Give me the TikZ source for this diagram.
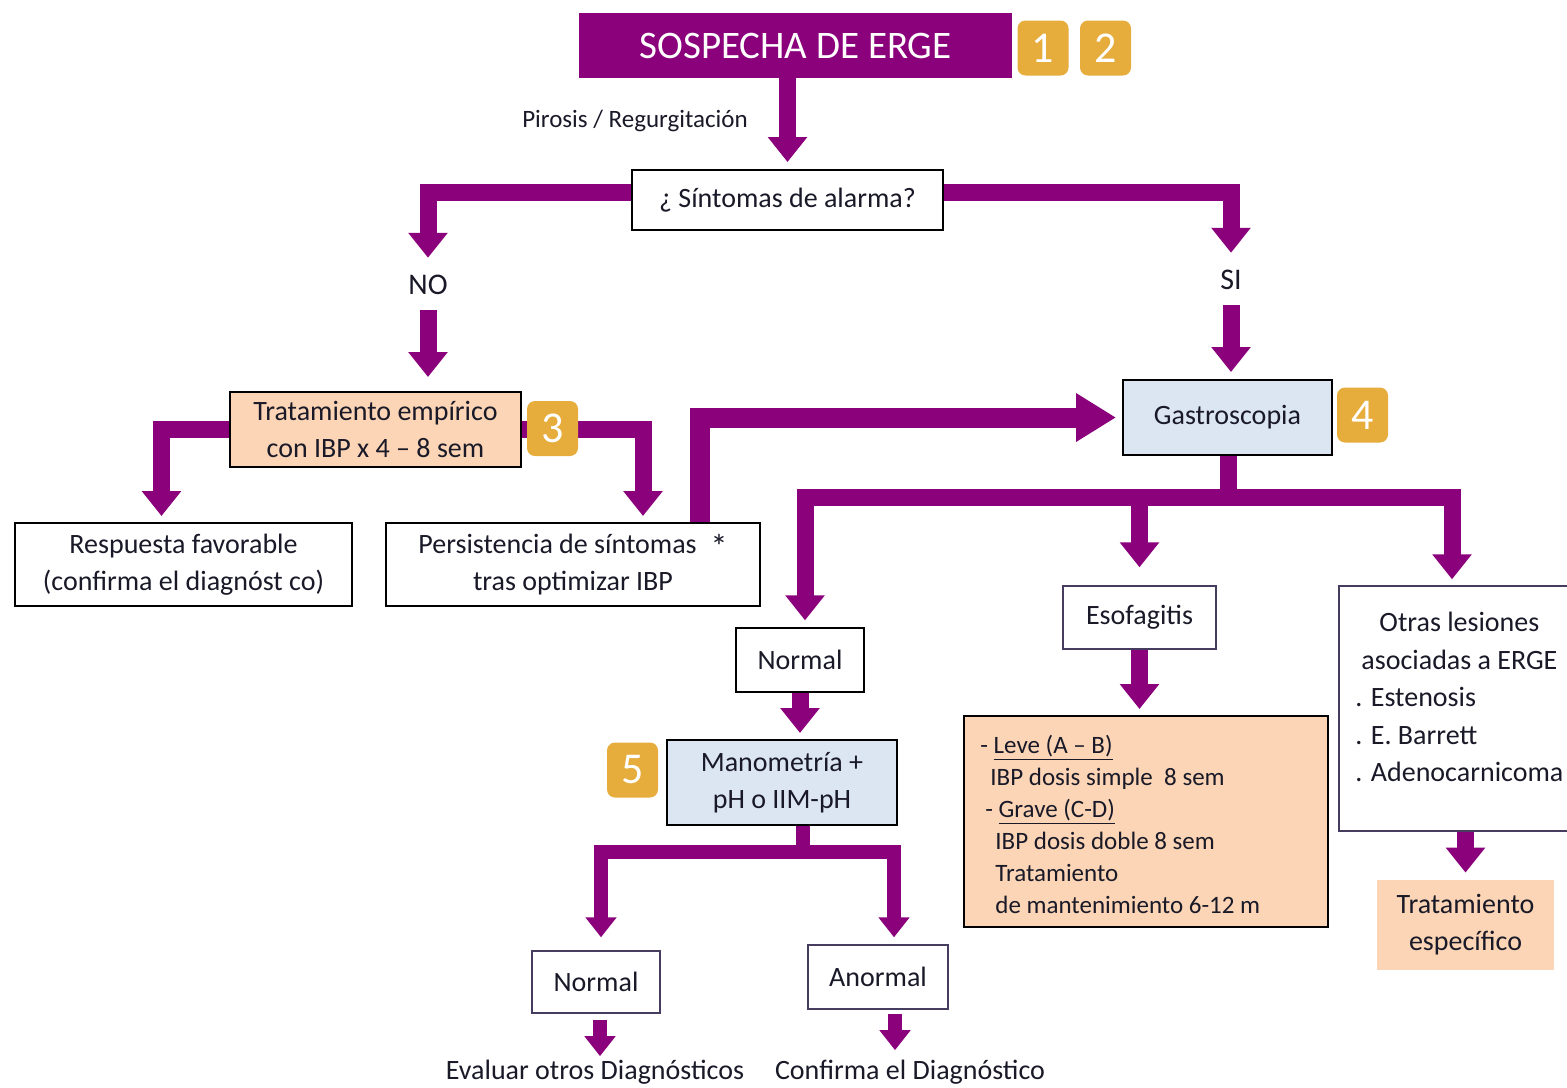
\documentclass[tikz,border=0pt]{standalone}
\usepackage{fontspec}
\setmainfont{Carlito}
\usetikzlibrary{arrows.meta,calc}
\definecolor{erge}{RGB}{139,0,123}
\definecolor{badgeor}{RGB}{230,172,60}
\definecolor{peach}{RGB}{251,213,181}
\definecolor{paleblue}{RGB}{220,230,242}
\definecolor{inkk}{RGB}{25,25,40}
\definecolor{slateline}{RGB}{70,60,95}
\pgfdeclarelayer{bg}
\pgfsetlayers{bg,main}
\begin{document}
\begin{tikzpicture}[x=0.5pt,y=-0.5pt,
  box/.style={draw=black, line width=1pt, fill=white, text=inkk,
    font=\fontsize{14}{18.5}\selectfont, align=center, inner sep=0pt},
  thinbox/.style={box, draw=slateline, line width=0.7pt},
  badge/.style={fill=badgeor, rounded corners=4pt, text=white,
    font=\fontsize{22}{22}\selectfont, minimum width=25.5pt,
    minimum height=27.5pt, inner sep=0pt},
  lbl/.style={text=inkk, inner sep=0pt},
  arr/.style={draw=erge, line width=8.5pt, -{Triangle[length=12.5pt,width=19pt]}},
  bigarr/.style={draw=erge, line width=10pt, -{Triangle[length=20pt,width=23pt]}},
  bar/.style={draw=erge, line width=8.5pt},
  smallarr/.style={draw=erge, line width=7pt, -{Triangle[length=10pt,width=15pt]}},
  smallbar/.style={draw=erge, line width=7pt}]
\useasboundingbox (0,0) rectangle (1567,1087);

% ---- nodes ----
\node[fill=erge, text=white, font=\fontsize{19.5}{20}\selectfont,
  minimum width=216.5pt, minimum height=32.5pt, inner sep=0pt]
  (title) at (795.5,45.5) {SOSPECHA DE ERGE};
\node[lbl, font=\fontsize{12.5}{14}\selectfont] (pirosis) at (635,121) {Pirosis / Regurgitación};
\node[box, minimum width=155.5pt, minimum height=30pt] (alarm) at (787.5,200) {¿ Síntomas de alarma?};
\node[lbl, font=\fontsize{15}{16}\selectfont] (nolbl) at (428,285) {NO};
\node[lbl, font=\fontsize{15}{16}\selectfont] (silbl) at (1231,280) {SI};

\node[box, fill=peach, minimum width=145.5pt, minimum height=37.5pt] (trat) at (375.5,429.5)
  {Tratamiento empírico\\con IBP x 4 – 8 sem};
\node[box, minimum width=168.5pt, minimum height=41.5pt] (resp) at (183.5,564.5)
  {Respuesta favorable\\(confirma el diagnóst co)};
\node[box, minimum width=187pt, minimum height=41.5pt] (pers) at (573,564.5)
  {Persistencia de síntomas\enspace\raisebox{-2.5pt}{\fontsize{17}{17}\selectfont *}\\tras optimizar IBP};

\node[box, fill=paleblue, minimum width=104.5pt, minimum height=37.5pt] (gastro) at (1227.5,417.5) {Gastroscopia};

\node[box, line width=0.7pt, minimum width=64pt, minimum height=32pt] (normal1) at (800,660) {Normal};
\node[thinbox, minimum width=76.5pt, minimum height=31.5pt] (esof) at (1139.5,617.5) {Esofagitis};
\node[thinbox, minimum width=120pt, minimum height=122.5pt] (otras) at (1459,708.5) {};
\node[lbl, anchor=west, align=left, font=\fontsize{14}{18.75}\selectfont] (otrastxt) at (1355,697)
  {\makebox[104pt][c]{Otras lesiones}\\
   \makebox[104pt][c]{asociadas a ERGE}\\
   . Estenosis\\
   . E. Barrett\\
   . Adenocarnicoma};

\node[box, fill=peach, minimum width=182pt, minimum height=105.5pt] (leve) at (1146,821.5) {};
\node[lbl, anchor=west, align=left, font=\fontsize{12.5}{16}\selectfont] (levetxt) at (980,824)
  {- \underline{Leve (A – B)}\\
   \hspace*{5pt}IBP dosis simple\ \ 8 sem\\
   \hspace*{2.5pt}- \underline{Grave (C-D)}\\
   \hspace*{7.5pt}IBP dosis doble 8 sem\\
   \hspace*{7.5pt}Tratamiento\\
   \hspace*{7.5pt}de mantenimiento 6-12 m};

\node[box, fill=paleblue, minimum width=115pt, minimum height=42.5pt] (mano) at (782,782.5)
  {Manometría +\\pH o IIM-pH};
\node[thinbox, minimum width=64pt, minimum height=31pt] (normal2) at (596,982) {Normal};
\node[thinbox, minimum width=70pt, minimum height=32pt] (anormal) at (878,977) {Anormal};
\node[fill=peach, text=inkk, font=\fontsize{14}{18.5}\selectfont, align=center,
  minimum width=88.5pt, minimum height=45pt, inner sep=0pt] (tesp) at (1465.5,925)
  {Tratamiento\\específico};

\node[lbl, anchor=base, font=\fontsize{14}{16}\selectfont] (evaltxt) at (595,1079) {Evaluar otros Diagnósticos};
\node[lbl, anchor=base, font=\fontsize{14}{16}\selectfont] (confirma) at (910,1079) {Confirma el Diagnóstico};

% ---- connectors ----
\begin{pgfonlayer}{bg}
\draw[arr, shorten >=3.5pt] (title.south -| alarm.north) -- (alarm.north);
\draw[arr, shorten >=8.5pt] ($(alarm.west)+(0,-8)$) -| (nolbl.north);
\draw[arr, shorten >=8.5pt] ($(alarm.east)+(0,-8)$) -| (silbl.north);
\draw[arr, shorten <=7.5pt, shorten >=7pt] (nolbl.south) -- (nolbl.south |- trat.north);
\draw[arr, shorten <=7.5pt, shorten >=3.5pt] (silbl.south) -- (silbl.south |- gastro.north);

\draw[arr, shorten >=3pt] (trat.west) -| ($(resp.north)+(-22,0)$);
\draw[arr, shorten >=3pt] (trat.east) -| ($(pers.north)+(70,0)$);
\draw[bigarr, shorten >=3pt] ($(pers.north)+(127,0)$) |- (gastro.west);

\coordinate (gj) at (1228,497);
\draw[bar] (gastro.south -| gj) -- ($(gj)+(0,8.5)$);
\draw[arr, shorten >=3.5pt] ($(gj)+(8,0)$) -| ($(normal1.north)+(5,0)$);
\draw[arr, shorten >=3pt] ($(gj)+(-8,0)$) -| ($(otras.north)+(-7,0)$);
\draw[arr, shorten >=9pt] (esof.north |- gj) -- (esof.north);

\draw[arr, shorten >=3pt] (normal1.south) -- (normal1.south |- mano.north);
\draw[arr, shorten >=3pt] (esof.south) -- (esof.south |- leve.north);

\coordinate (mj) at (803,852);
\draw[smallbar] (mano.south -| mj) -- ($(mj)+(0,7)$);
\draw[smallarr, shorten >=6.5pt] ($(mj)+(7,0)$) -| ($(normal2.north)+(5,0)$);
\draw[smallarr, shorten >=3.5pt] ($(mj)+(-7,0)$) -| ($(anormal.north)+(16,0)$);

\draw[arr, shorten >=3.5pt] (otras.south -| tesp.north) -- (tesp.north);
\draw[smallarr, shorten <=3pt, shorten >=1.5pt] ($(normal2.south)+(4,0)$) -- ($(evaltxt.north)+(5,0)$);
\draw[smallarr, shorten <=2pt, shorten >=4.5pt] ($(anormal.south)+(17,0)$) -- ($(confirma.north)+(-15,0)$);
\end{pgfonlayer}

% ---- numbered badges ----
\node[badge] (b1) at (1043,48) {1};
\node[badge] (b2) at (1105.5,48) {2};
\node[badge] (b3) at (552.5,428.5) {3};
\node[badge] (b4) at (1362.5,415) {4};
\node[badge] (b5) at (632.5,770) {5};
\end{tikzpicture}
\end{document}
